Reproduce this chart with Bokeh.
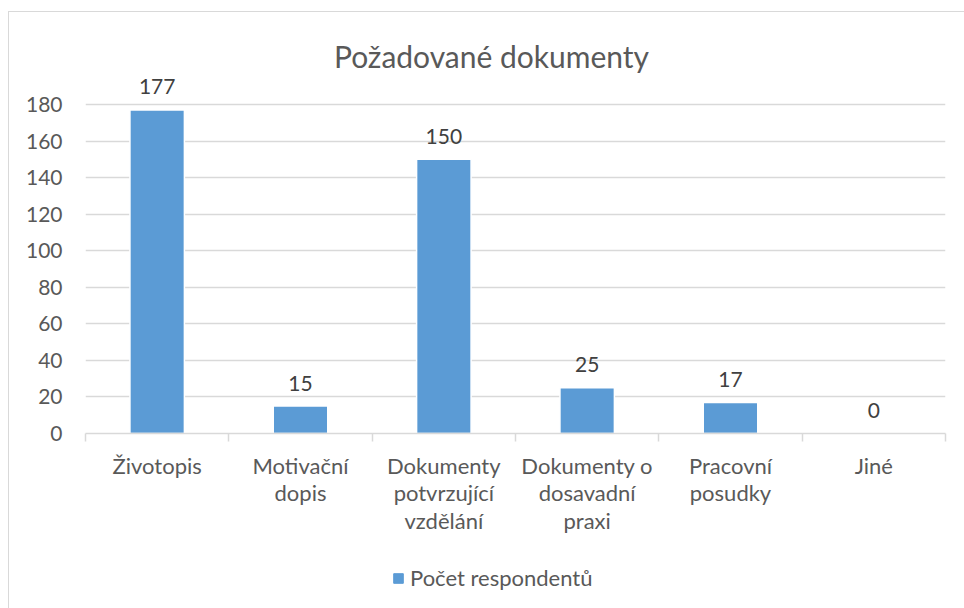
from bokeh.plotting import figure
from bokeh.models import (Range1d, FixedTicker, ColumnDataSource, LabelSet, Legend,
                          LegendItem, Label, LinearAxis)
from bokeh.layouts import column
from bokeh.core.properties import value
from bokeh.embed import file_html
from bokeh.resources import INLINE

categories = ["Životopis", "Motivační\ndopis", "Dokumenty\npotvrzující\nvzdělání",
              "Dokumenty o\ndosavadní\npraxi", "Pracovní\nposudky", "Jiné"]
values = [177, 15, 150, 25, 17, 0]
y_ticks = [0, 20, 40, 60, 80, 100, 120, 140, 160, 180]
title_text = "Požadované dokumenty"
series_name = "Počet respondentů"

FONT = "Lato"
BAR = "#5B9BD5"
GRID = "#D9D9D9"
TXT = "#595959"

xs = [i + 0.5 for i in range(len(categories))]
src = ColumnDataSource(dict(x=xs, top=values, lbl=[str(v) for v in values]))

p = figure(width=955, height=541, output_backend="svg", toolbar_location=None,
           x_range=Range1d(0, len(categories)), y_range=Range1d(0, 230.3),
           x_axis_location=None, y_axis_location=None,
           min_border_left=76, min_border_right=19, min_border_top=0, min_border_bottom=120)
p.outline_line_color = None

yax = LinearAxis(ticker=FixedTicker(ticks=y_ticks))
yax.axis_line_color = None
yax.major_tick_line_color = None
yax.minor_tick_line_color = None
yax.major_label_text_font = FONT
yax.major_label_text_font_size = "21px"
yax.major_label_text_color = TXT
yax.major_label_standoff = 17
p.add_layout(yax, "left")

xax = LinearAxis(ticker=FixedTicker(ticks=xs, minor_ticks=list(range(len(categories) + 1))))
xax.major_label_overrides = {x: c for x, c in zip(xs, categories)}
xax.axis_line_color = GRID
xax.axis_line_width = 1.5
xax.major_tick_out = 0
xax.major_tick_in = 0
xax.minor_tick_out = 8
xax.minor_tick_in = 0
xax.minor_tick_line_color = GRID
xax.minor_tick_line_width = 1.5
xax.major_label_text_font = FONT
xax.major_label_text_font_size = "22px"
xax.major_label_text_color = TXT
xax.major_label_standoff = 10
xax.major_label_text_line_height = 1.03
p.add_layout(xax, "below")

p.xgrid.grid_line_color = None
p.ygrid.ticker = FixedTicker(ticks=y_ticks)
p.ygrid.grid_line_color = GRID
p.ygrid.grid_line_width = 1.5

p.vbar(x="x", top="top", width=0.38, source=src, fill_color=BAR,
       line_color="white", line_width=1.5)

labels = LabelSet(x="x", y="top", text="lbl", source=src, text_align="center",
                  text_baseline="middle", y_offset=23, text_font=value(FONT),
                  text_font_size=value("21px"), text_color=value("#404040"))
p.add_layout(labels)

title = Label(x=406, y=378, x_units="screen", y_units="screen", text=title_text,
              text_align="center", text_baseline="middle", text_font=FONT,
              text_font_size="30px", text_color=TXT)
p.add_layout(title)

# legend strip below the chart
q = figure(width=955, height=55, output_backend="svg", toolbar_location=None,
           x_range=Range1d(0, 1), y_range=Range1d(0, 1),
           x_axis_location=None, y_axis_location=None,
           min_border_left=0, min_border_right=0, min_border_top=0, min_border_bottom=0)
q.outline_line_color = None
q.xgrid.grid_line_color = None
q.ygrid.grid_line_color = None
rq = q.vbar(x="x", top="top", width=0.38, source=src, fill_color=BAR,
            line_color=BAR, line_width=1, visible=False)
legend = Legend(items=[LegendItem(label=series_name, renderers=[rq])],
                location=(307, 17), orientation="horizontal",
                glyph_width=12, glyph_height=12, label_text_font=FONT,
                label_text_font_size="22px", label_text_color=TXT,
                border_line_color=None, background_fill_alpha=0, padding=0, margin=0,
                label_standoff=6)
q.add_layout(legend, "center")

layout = column(p, q, spacing=0,
                styles={"border-top": "1px solid #D9D9D9", "border-left": "1px solid #D9D9D9",
                        "margin-top": "11px", "margin-left": "8px"})

open("out.html", "w").write(file_html(layout, INLINE))
